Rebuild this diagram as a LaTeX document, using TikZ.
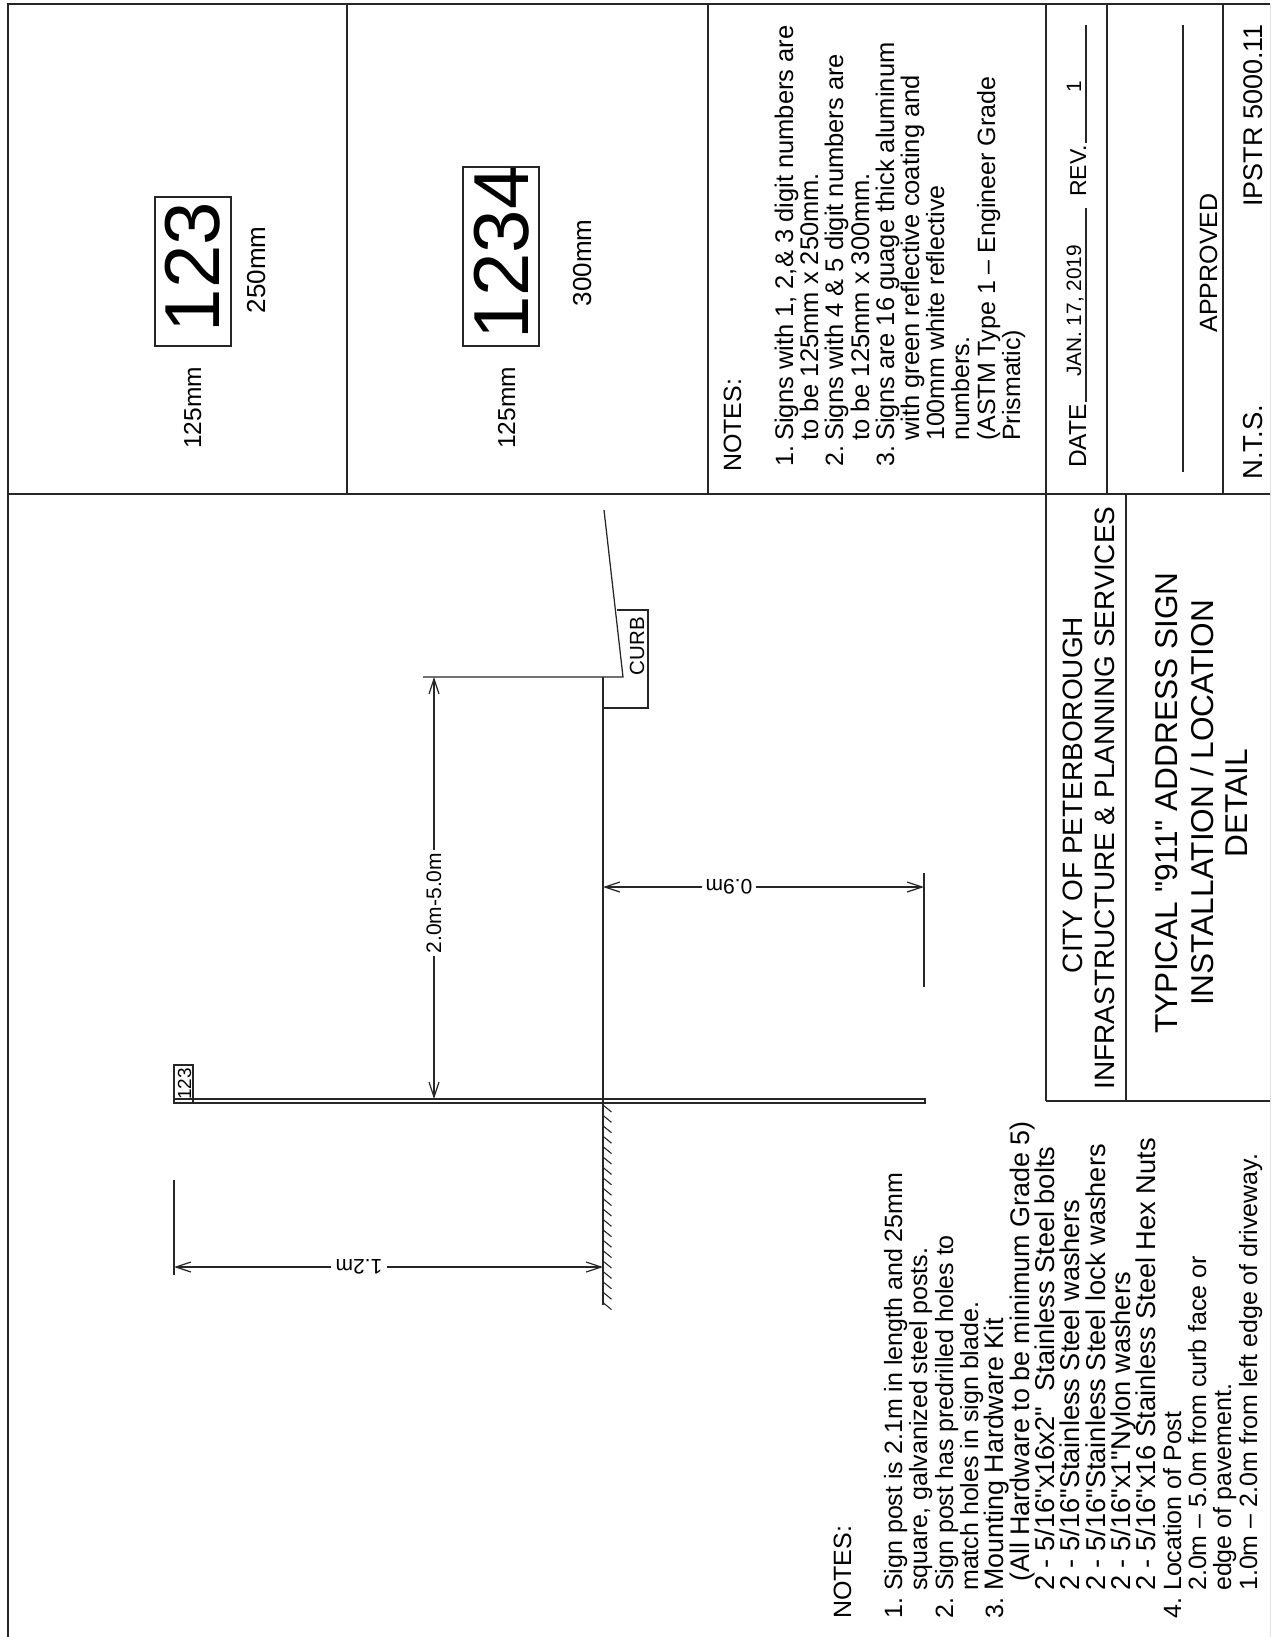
\documentclass[tikz,border=0pt]{standalone}
\usepackage{fontspec}
\setmainfont[Ligatures=TeXOff]{Liberation Sans}
\usetikzlibrary{arrows.meta}
\tikzset{
  sheetline/.style={line width=1.4pt,black!85},
  partline/.style={line width=1.25pt,black!85},
  dimline/.style={line width=1.2pt,black!85,>={Straight Barb[length=15pt,width=10pt]}},
  notetext/.style={rotate=90,anchor=base west,inner sep=0pt,font=\fontsize{25}{30}\selectfont},
  widetext/.style={notetext,font=\fontsize{25.5}{30}\selectfont},
  kittext/.style={notetext,font=\fontsize{27.2}{30}\selectfont},
  sidetext/.style={rotate=90,anchor=base,inner sep=0pt,font=\fontsize{26}{30}\selectfont},
  titletext/.style={rotate=90,anchor=base,inner sep=0pt,font=\fontsize{28}{34}\selectfont},
  bigtitle/.style={rotate=90,anchor=base,inner sep=0pt,font=\fontsize{31.6}{36}\selectfont},
  signtext/.style={rotate=90,anchor=base,inner sep=0pt,font=\fontsize{78}{90}\selectfont},
  dimtext/.style={inner sep=3pt,font=\fontsize{21}{25}\selectfont}
}
\begin{document}
\begin{tikzpicture}[x=1pt,y=-1pt]
  \useasboundingbox (0,0) rectangle (1271,1637);

  % sheet frame and cells
  \draw[gray!25,line width=0.8pt] (1270,4) -- (1270,1637);
  \draw[sheetline] (8,1637) -- (8,4) -- (1270,4);
  \draw[sheetline] (8,494) -- (1270,494);
  \draw[sheetline] (347,4) -- (347,494);
  \draw[sheetline] (708,4) -- (708,494);
  \draw[sheetline] (1046,4) -- (1046,1101);
  \draw[sheetline] (1107,4) -- (1107,494);
  \draw[sheetline] (1223,4) -- (1223,494);
  \draw[sheetline] (1126,494) -- (1126,1101);
  \draw[sheetline] (1046,1101) -- (1270,1101);

  % sign faces
  \draw[partline] (155,197) rectangle (231,346);
  \node[signtext] (smallsign) at (219,267) {123};
  \node[sidetext] (smallheight) at (265,270) {250mm};
  \node[sidetext,font=\fontsize{24.5}{30}\selectfont] (smallwidth) at (201,408) {125mm};
  \draw[partline] (463,167) rectangle (539,346);
  \node[signtext] (largesign) at (528,253) {1234};
  \node[sidetext] (largeheight) at (591,263) {300mm};
  \node[sidetext,font=\fontsize{24.5}{30}\selectfont] (largewidth) at (515,408) {125mm};

  % sign notes
  \node[notetext] (signnotes) at (741,472) {NOTES:};
  \node[notetext] (signone) at (793,467) {1.};
  \node[widetext] (signonea) at (793,441) {Signs with 1, 2,\& 3 digit numbers are};
  \node[widetext] (signoneb) at (818,441) {to be 125mm x 250mm.};
  \node[notetext] (signtwo) at (843,467) {2.};
  \node[widetext] (signtwoa) at (843,441) {Signs with 4 \& 5 digit numbers are};
  \node[widetext] (signtwob) at (869,441) {to be 125mm x 300mm.};
  \node[notetext] (signthree) at (894,467) {3.};
  \node[widetext] (signthreea) at (894,441) {Signs are 16 guage thick aluminum};
  \node[widetext] (signthreeb) at (919,441) {with green reflective coating and};
  \node[notetext] (signthreec) at (944,441) {100mm white reflective};
  \node[notetext] (signthreed) at (969,441) {numbers.};
  \node[notetext] (signthreee) at (995,441) {(ASTM Type 1 – Engineer Grade};
  \node[notetext] (signthreef) at (1020,441) {Prismatic)};

  % title block, right column
  \node[notetext,font=\fontsize{24.5}{30}\selectfont] (datelabel) at (1086,468) {DATE};
  \node[rotate=90,anchor=base,inner sep=0pt,font=\fontsize{20.8}{25}\selectfont] (datevalue) at (1081,311) {JAN. 17, 2019};
  \node[notetext,font=\fontsize{23}{30}\selectfont] (revlabel) at (1086,197) {REV.};
  \node[rotate=90,anchor=base,inner sep=0pt,font=\fontsize{20.8}{25}\selectfont] (revvalue) at (1081,87) {1};
  \draw[partline] (1086,402) -- (1086,208);
  \draw[partline] (1086,143) -- (1086,25);
  \draw[partline] (1183,472) -- (1183,25);
  \node[sidetext,font=\fontsize{25}{30}\selectfont] (approved) at (1217,263) {APPROVED};
  \node[notetext,font=\fontsize{27.5}{30}\selectfont] (scale) at (1262,480) {N.T.S.};
  \node[notetext,font=\fontsize{27}{30}\selectfont] (drawingno) at (1262,207) {IPSTR 5000.11};

  % title block, lower column
  \node[titletext] (cityname) at (1082,795) {CITY OF PETERBOROUGH};
  \node[titletext] (deptname) at (1114,798) {INFRASTRUCTURE \& PLANNING SERVICES};
  \node[bigtitle] (titlea) at (1177,803) {TYPICAL "911" ADDRESS SIGN};
  \node[bigtitle] (titleb) at (1213,803) {INSTALLATION / LOCATION};
  \node[bigtitle] (titlec) at (1247,803) {DETAIL};

  % post, ground and curb
  \draw[partline] (174,1099) rectangle (925,1103);
  \draw[partline] (174,1065) rectangle (193,1103);
  \node[rotate=90,anchor=base,inner sep=0pt,font=\fontsize{19}{23}\selectfont] (postsign) at (191,1084) {123};
  \draw[partline] (603,1305) -- (603,677);
  \foreach \k in {0,...,19}
    \draw[line width=1.1pt,black!85] (603,1105+\k*10.4) -- (611.5,1112+\k*10.4);
  \draw[partline] (423,677) -- (623,677) -- (604,510);
  \draw[partline] (603,677) -- (603,708) -- (648,708) -- (648,610) -- (617,610);
  \node[rotate=90,anchor=base,inner sep=0pt,font=\fontsize{20.5}{25}\selectfont] (curb) at (644,646) {CURB};

  % dimensions
  \coordinate (curbface) at (434,677);
  \coordinate (postface) at (434,1099);
  \node[dimtext,rotate=90] (setback) at (434,903) {2.0m-5.0m};
  \draw[dimline,->] (setback.east) -- (curbface);
  \draw[dimline,->] (setback.west) -- (postface);

  \coordinate (groundleft) at (603,887);
  \coordinate (burialend) at (924,887);
  \node[dimtext,rotate=180] (burial) at (729,887) {0.9m};
  \draw[dimline,->] (burial.east) -- (groundleft);
  \draw[dimline,->] (burial.west) -- (burialend);
  \draw[partline] (924,873) -- (924,987);

  \coordinate (groundtop) at (603,1267);
  \coordinate (signtop) at (174,1267);
  \node[dimtext,rotate=180,inner xsep=4pt] (height) at (359,1267) {1.2m};
  \draw[dimline,->] (height.west) -- (groundtop);
  \draw[dimline,->] (height.east) -- (signtop);
  \draw[partline] (174,1180) -- (174,1275);

  % post notes
  \node[notetext] (postnotes) at (851,1619) {NOTES:};
  \node[notetext] (postone) at (902,1619) {1.};
  \node[notetext] (postonea) at (902,1591) {Sign post is 2.1m in length and 25mm};
  \node[notetext] (postoneb) at (927,1591) {square, galvanized steel posts.};
  \node[notetext] (posttwo) at (953,1619) {2.};
  \node[notetext] (posttwoa) at (953,1591) {Sign post has predrilled holes to};
  \node[notetext] (posttwob) at (978,1591) {match holes in sign blade.};
  \node[notetext] (postthree) at (1003,1619) {3.};
  \node[kittext,font=\fontsize{26.8}{30}\selectfont] (postthreea) at (1003,1591) {Mounting Hardware Kit};
  \node[kittext,font=\fontsize{26.9}{30}\selectfont] (postthreeb) at (1029,1582) {(All Hardware to be minimum Grade 5)};
  \node[kittext] (postthreec) at (1054,1591) {2 - 5/16"x16x2"\ \ Stainless Steel bolts};
  \node[kittext] (postthreed) at (1079,1591) {2 - 5/16"Stainless Steel washers};
  \node[kittext] (postthreee) at (1105,1591) {2 - 5/16"Stainless Steel lock washers};
  \node[kittext] (postthreef) at (1130,1591) {2 - 5/16"x1"Nylon washers};
  \node[kittext] (postthreeg) at (1155,1591) {2 - 5/16"x16 Stainless Steel Hex Nuts};
  \node[notetext] (postfour) at (1181,1619) {4.};
  \node[notetext] (postfoura) at (1181,1591) {Location of Post};
  \node[notetext] (postfourb) at (1206,1591) {2.0m – 5.0m from curb face or};
  \node[notetext] (postfourc) at (1231,1591) {edge of pavement.};
  \node[notetext] (postfourd) at (1257,1591) {1.0m – 2.0m from left edge of driveway.};
\end{tikzpicture}
\end{document}
